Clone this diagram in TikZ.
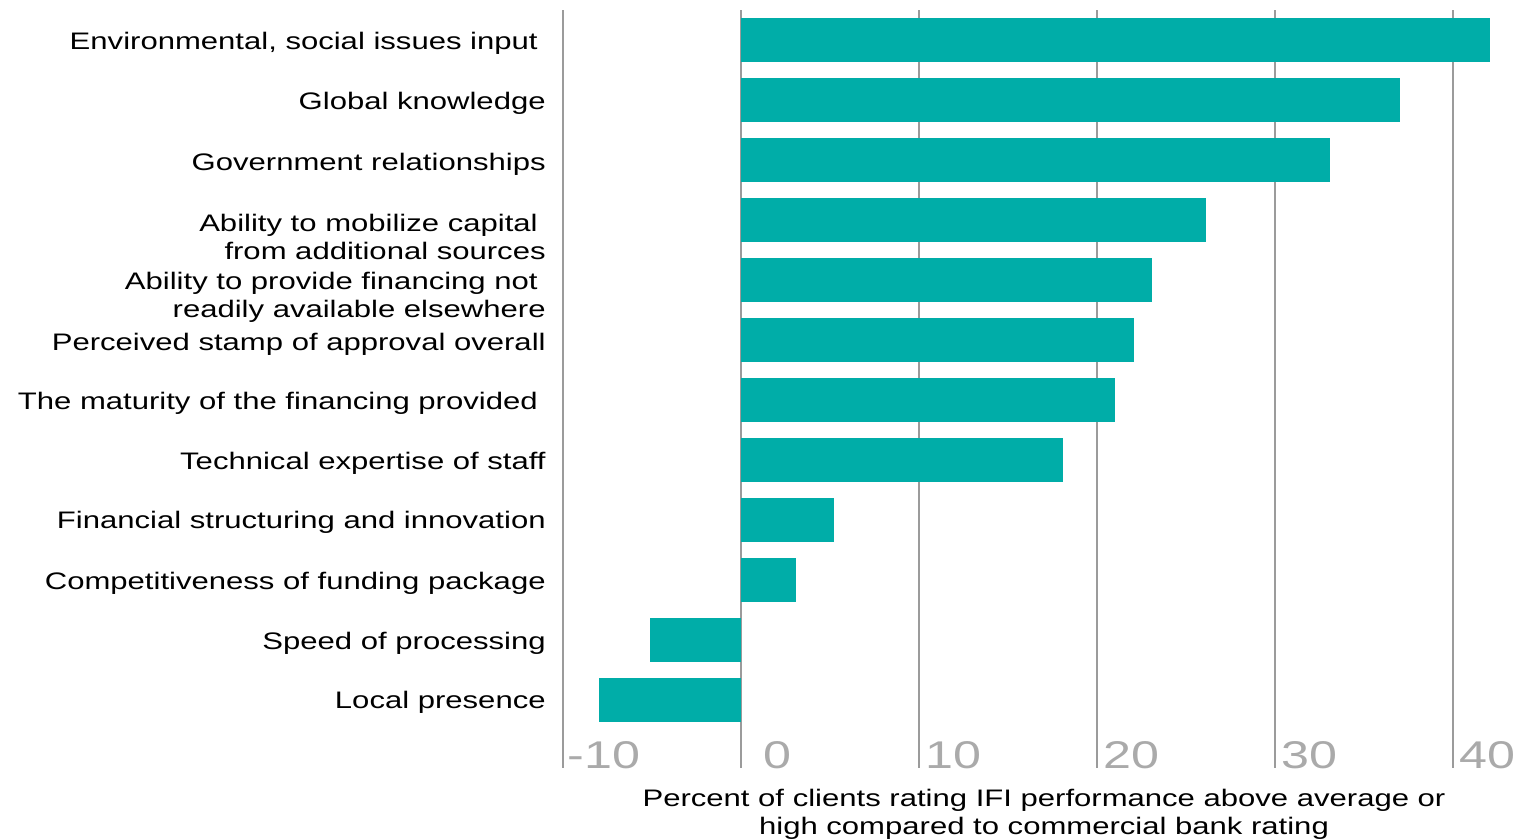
\documentclass[tikz,border=0pt]{standalone}
\usepackage{fontspec}
\setmainfont[FakeStretch=1.3]{Liberation Sans}
\definecolor{barteal}{RGB}{0,173,168}
\definecolor{gridgray}{RGB}{155,155,155}
\definecolor{tickgray}{RGB}{170,170,170}

\begin{document}
\begin{tikzpicture}[x=0.02cm,y=-0.02cm,
    lab/.style={anchor=east,align=right,inner sep=0pt,text=black,
      font=\fontsize{13.6}{15.9}\selectfont},
    barfill/.style={fill=barteal},
    gridline/.style={gridgray,line width=1.1pt},
    ticklab/.style={anchor=base west,inner sep=0pt,text=tickgray,
      font=\fontsize{22}{24}\selectfont}]
    \useasboundingbox (0,0) rectangle (1524,839);
    % vertical lines
    \foreach \v in {-10,0,...,40}
        \draw [gridline] ({741+17.8*\v},10) -- ({741+17.8*\v},768);
    % bars
    \foreach \v [count=\i] in {42.1,37,33.1,26.1,23.1,22.1,21,18.1,5.2,3.1,-5.1,-8}
        \fill [barfill] (741,{18+60*(\i-1)}) rectangle ({741+17.8*\v},{62+60*(\i-1)});
    % labels
    \node [lab] (l1) at (538,43) {Environmental, social issues input};
    \node [lab] (l2) at (546,103) {Global knowledge};
    \node [lab] (l3) at (546,164) {Government relationships};
    \node [lab] (l4) at (546,237) {Ability to mobilize capital\kern0.16cm\\from additional sources};
    \node [lab] (l5) at (546,297) {Ability to provide financing not\kern0.16cm\\readily available elsewhere};
    \node [lab] (l6) at (546,344) {Perceived stamp of approval overall};
    \node [lab] (l7) at (538,403) {The maturity of the financing provided};
    \node [lab] (l8) at (546,463) {Technical expertise of staff};
    \node [lab] (l9) at (546,522) {Financial structuring and innovation};
    \node [lab] (l10) at (546,583) {Competitiveness of funding package};
    \node [lab] (l11) at (546,643) {Speed of processing};
    \node [lab] (l12) at (546,702) {Local presence};
    % axis
    \node [ticklab] (tm10) at (567,768) {-10};
    \node [ticklab] (t0) at (763,768) {0};
    \node [ticklab] (t10) at (925,768) {10};
    \node [ticklab] (t20) at (1103,768) {20};
    \node [ticklab] (t30) at (1281,768) {30};
    \node [ticklab] (t40) at (1459,768) {40};
    \node [lab,anchor=center,align=center] (title) at (1044,814)
        {Percent of clients rating IFI performance above average or\\high compared to commercial bank rating};
\end{tikzpicture}
\end{document}
